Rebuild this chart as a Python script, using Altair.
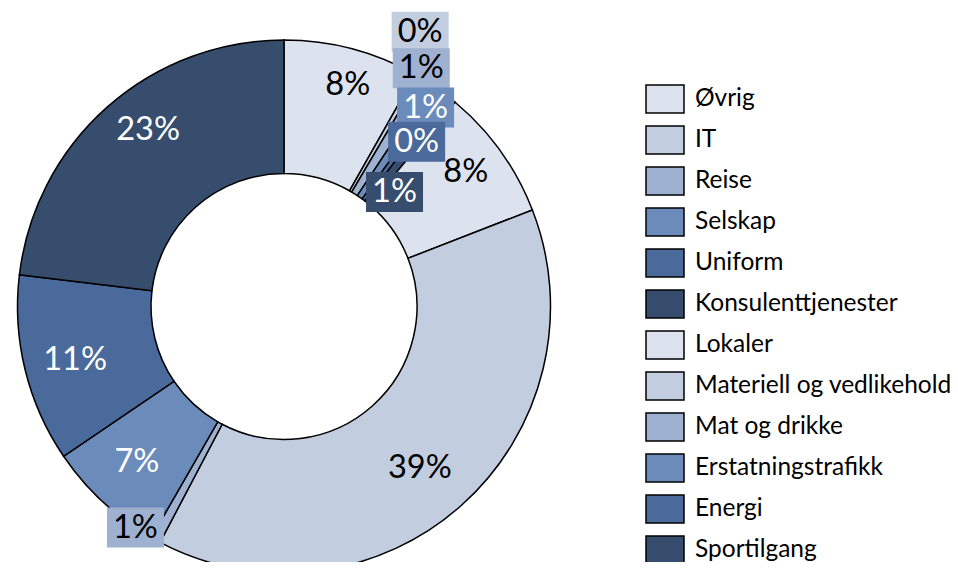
import math
import altair as alt
import pandas as pd

# ---- data ----
categories = ["Øvrig", "IT", "Reise", "Selskap", "Uniform", "Konsulenttjenester",
              "Lokaler", "Materiell og vedlikehold", "Mat og drikke",
              "Erstatningstrafikk", "Energi", "Sportilgang"]
shares = [8.2, 0.3, 0.8, 0.7, 0.4, 0.7, 8.0, 38.6, 0.6, 7.2, 11.4, 23.1]

# ---- styling / layout ----
palette = ["#dce3ee", "#c3cde0", "#9fb1d0", "#6b8cbb", "#4a6a9b", "#374d6e"]
colors = [palette[i % 6] for i in range(len(categories))]
label_colors = ["black" if i % 6 < 3 else "white" for i in range(len(categories))]
boxed = [False, True, True, True, True, True, False, False, True, False, False, False]
# label placement: radius (px) and angular shift (deg) from the slice mid angle
label_r = [230.6, 306.6, 275, 244.2, 211.6, 159.1, 226.3, 211.1, 266.3, 214, 215.7, 222.8]
label_dtheta = [1.3, -3.7, -2.1, 0.7, 2.1, 5.3, -0.9, 1.7, 5.1, 0.6, -0.7, 4.0]

CX, CY = 276, 298.5
R_OUT, R_IN = 266.5, 133
BOX_W, BOX_H = 57, 40
FONT = "Lato"

total = sum(shares)
rows = []
cum = 0.0
for i, (c, v) in enumerate(zip(categories, shares)):
    mid = (cum + v / 2) / total * 360.0
    cum += v
    ang = math.radians(mid + label_dtheta[i])
    lx = CX + label_r[i] * math.sin(ang)
    ly = CY - label_r[i] * math.cos(ang)
    rows.append({
        "idx": i, "category": c, "share": v,
        "label": f"{math.floor(v + 0.5)}%",
        "lx": lx, "ly": ly,
        "bx": lx - BOX_W / 2, "bx2": lx + BOX_W / 2,
        "by": ly - BOX_H / 2, "by2": ly + BOX_H / 2,
    })
df = pd.DataFrame(rows)

base = alt.Chart(df)

donut = base.mark_arc(
    innerRadius=R_IN, outerRadius=R_OUT, stroke="black", strokeWidth=1.5,
    x=CX, y=CY
).encode(
    theta=alt.Theta("share:Q", stack=True),
    order=alt.Order("idx:Q"),
    color=alt.Color(
        "category:N",
        scale=alt.Scale(domain=categories, range=colors),
        legend=alt.Legend(
            title=None, orient="none", legendX=637, legendY=71,
            symbolType="M-1,-0.737H1V0.737H-1Z", symbolSize=1444,
            symbolStrokeColor="black", symbolStrokeWidth=1.5, symbolOpacity=1,
            labelFont=FONT, labelFontSize=24.5, labelColor="black",
            labelOffset=10, rowPadding=3, padding=0, labelLimit=500,
        ),
    ),
)

layers = [donut]
for i, c in enumerate(categories):
    sub = base.transform_filter(alt.datum.idx == i)
    if boxed[i]:
        layers.append(sub.mark_rect().encode(
            x=alt.X("bx:Q", scale=None, axis=None), x2="bx2:Q",
            y=alt.Y("by:Q", scale=None, axis=None), y2="by2:Q",
            fill=alt.value(colors[i]),
        ))
    layers.append(sub.mark_text(
        font=FONT, fontSize=32.5, align="center", baseline="middle"
    ).encode(
        x=alt.X("lx:Q", scale=None, axis=None),
        y=alt.Y("ly:Q", scale=None, axis=None),
        text="label:N",
        color=alt.value(label_colors[i]),
    ))

chart = alt.layer(*layers).properties(
    width=942, height=554, padding=0,
    autosize=alt.AutoSizeParams(type="none"),
).configure_view(stroke=None)

chart.save("out.html", embed_options={"renderer": "svg", "actions": False})
